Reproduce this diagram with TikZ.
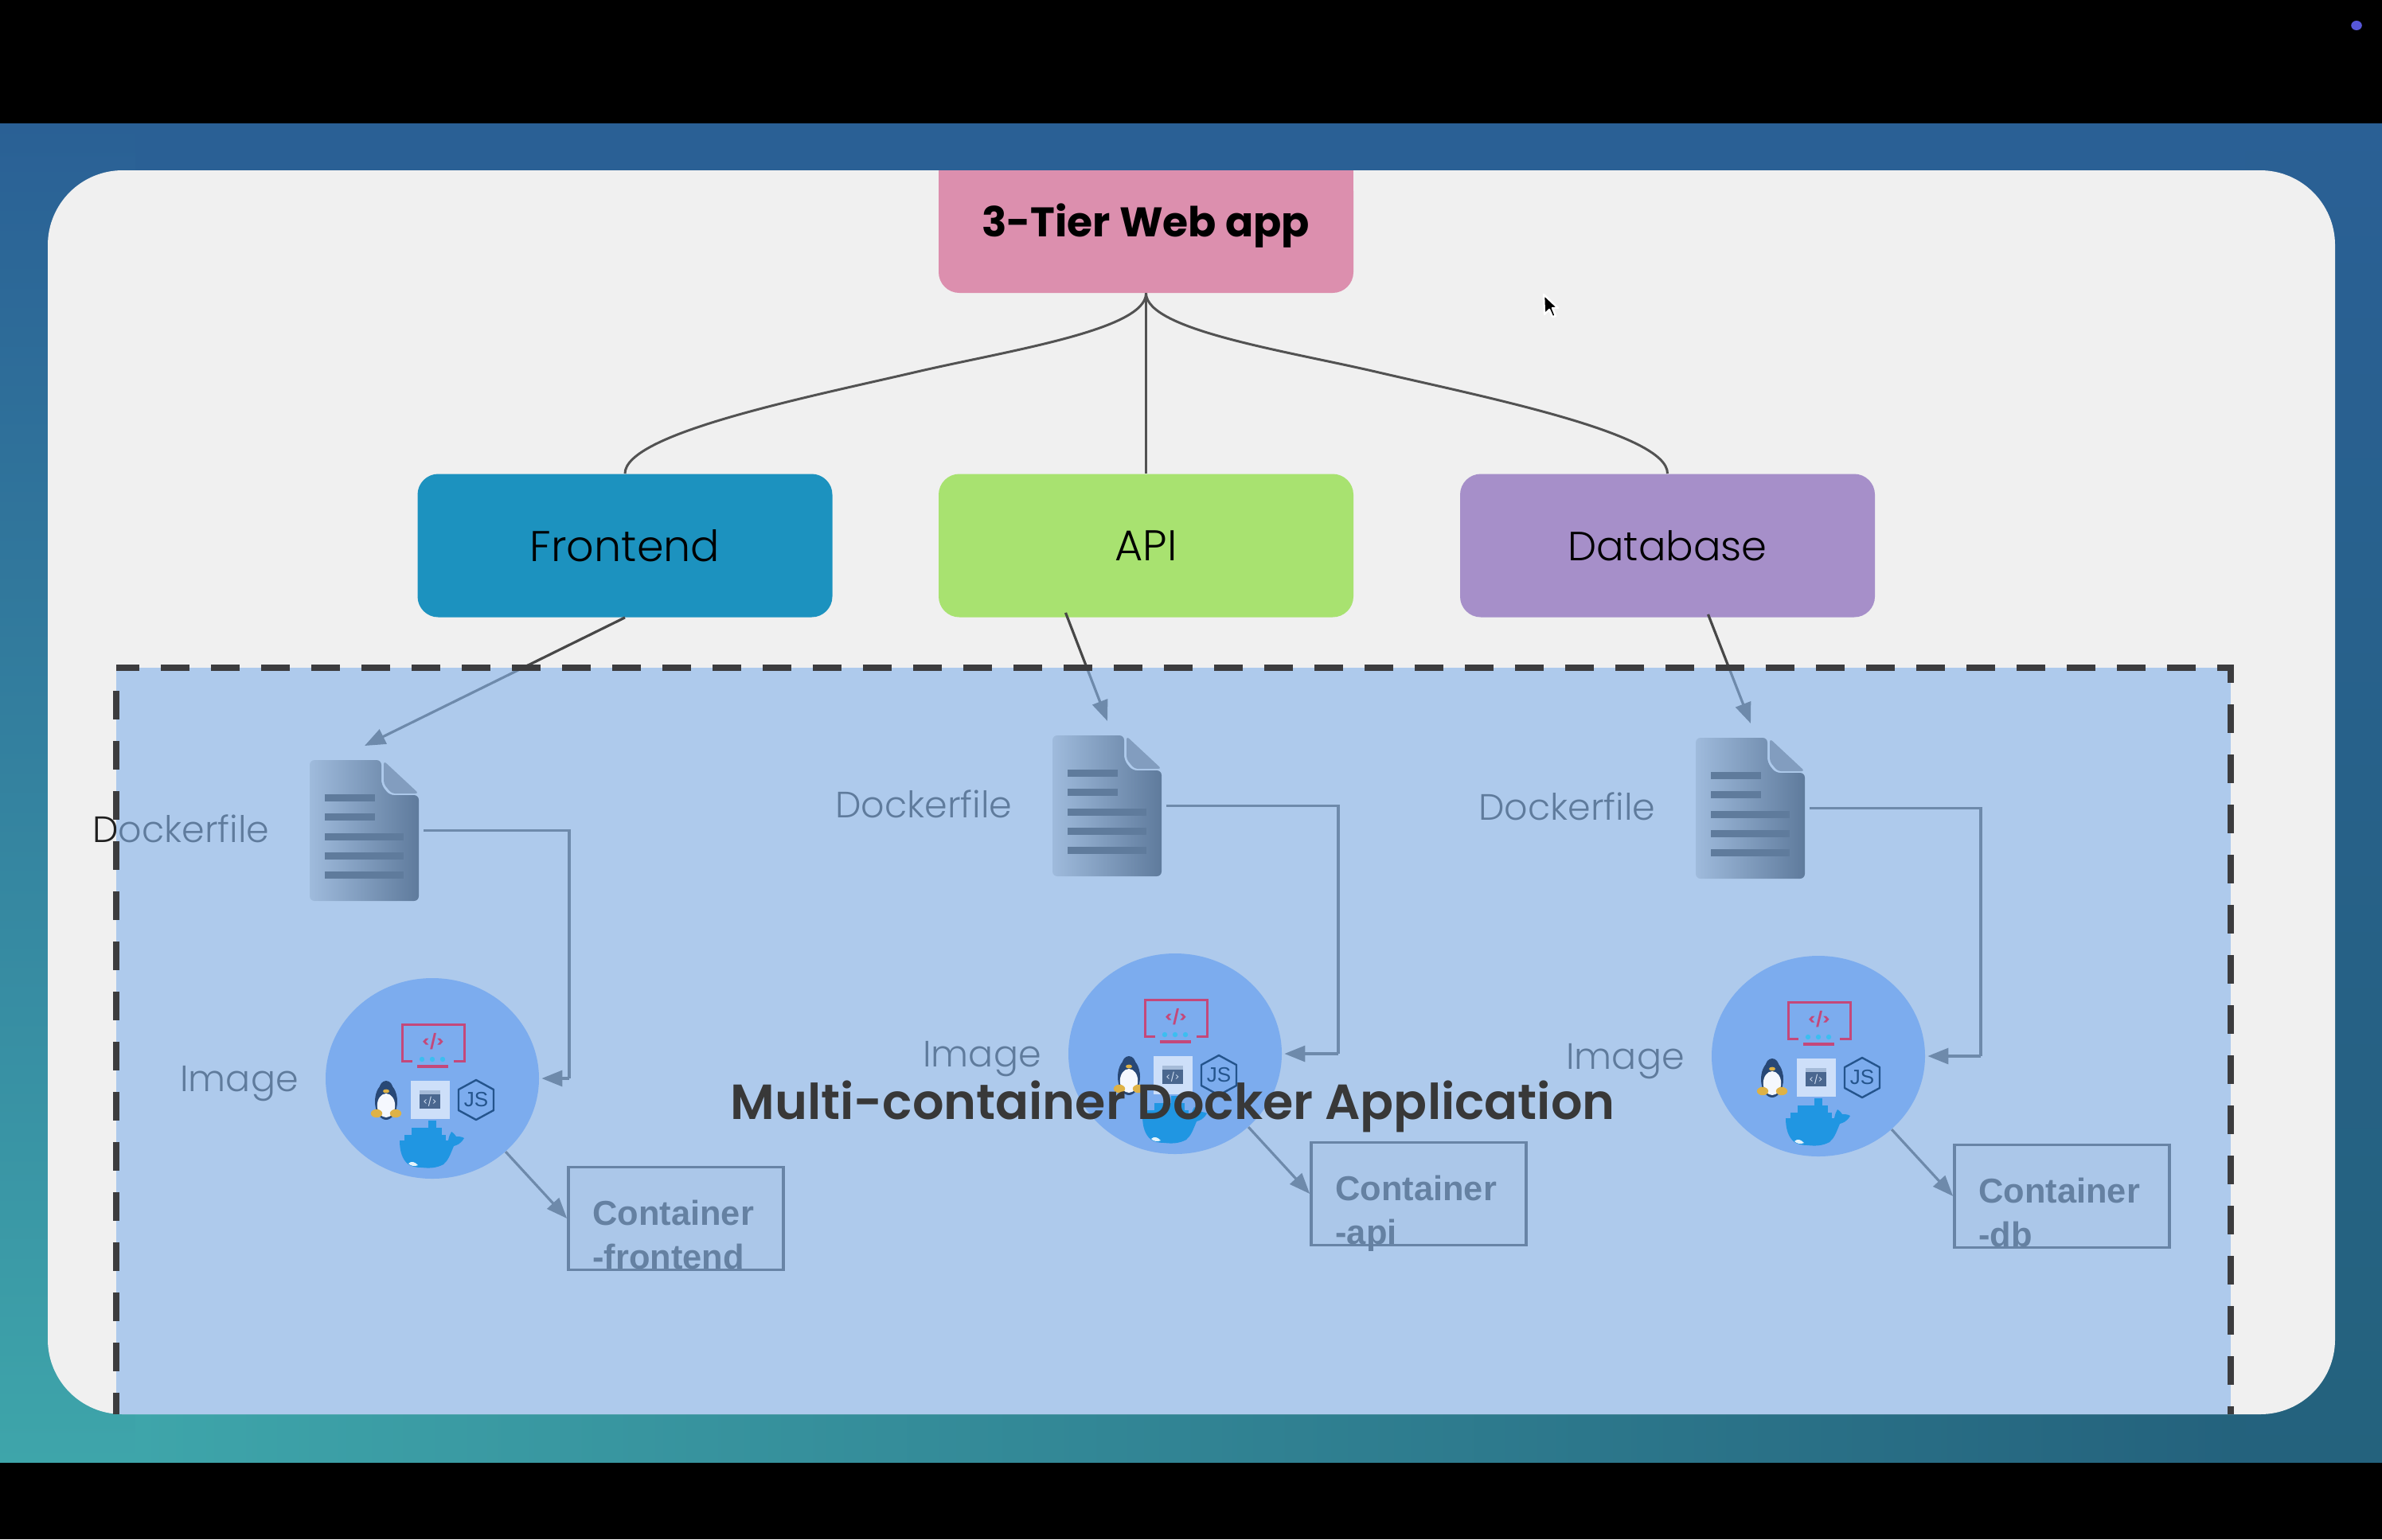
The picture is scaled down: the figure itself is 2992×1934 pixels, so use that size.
\documentclass[tikz,border=0pt]{standalone}
\usepackage{fontspec}
\usetikzlibrary{arrows.meta,calc,shapes.geometric}
\setmainfont{Poppins}
\newfontfamily\contfont{Liberation Sans}
\newfontfamily\lightfont{Poppins Light}
\newfontfamily\semifont{Poppins SemiBold}
\pgfdeclarelayer{back}
\pgfdeclarelayer{veil}
\pgfsetlayers{back,veil,main}
\definecolor{cardgrey}{RGB}{240,240,240}
\definecolor{bgtop}{RGB}{42,96,149}
\definecolor{bgmid}{RGB}{43,102,152}
\definecolor{bgteal}{RGB}{62,165,170}
\definecolor{bgcentre}{RGB}{42,132,142}
\definecolor{bgright}{RGB}{36,98,125}
\definecolor{pinkbox}{RGB}{220,143,174}
\definecolor{bluebox}{RGB}{28,146,191}
\definecolor{greenbox}{RGB}{168,226,112}
\definecolor{purplebox}{RGB}{166,143,201}
\definecolor{veilblue}{RGB}{135,180,234}
\definecolor{imgblue}{RGB}{124,172,238}
\definecolor{monitorpink}{RGB}{196,72,122}
\definecolor{monitorcyan}{RGB}{60,190,240}
\definecolor{whaleblue}{RGB}{32,150,226}
\definecolor{jsblue}{RGB}{36,84,140}
\definecolor{tuxdark}{RGB}{40,72,118}
\definecolor{tuxfoot}{RGB}{222,178,70}
\definecolor{dashgrey}{RGB}{60,60,62}
\tikzset{
  x=0.5pt,y=-0.5pt,
  tierbox/.style={rounded corners=13pt,minimum width=260.5pt,minimum height=90pt,inner sep=0pt,text=black,font=\lightfont\fontsize{27}{30}\selectfont},
  link/.style={draw=black!68,line width=1.5pt},
  conn/.style={draw=black!72,line width=1.6pt},
  connarrow/.style={conn,-{Triangle[length=13pt,width=10pt]}},
  labeltext/.style={anchor=base west,inner sep=0pt,text=black!88,font=\lightfont\fontsize{23}{26}\selectfont},
  contbox/.style={draw=black!78,line width=1.8pt,fill=black!9,minimum width=135pt,minimum height=64.5pt,inner sep=0pt},
  conttext/.style={anchor=base west,inner sep=0pt,align=left,text=black!82,font=\contfont\bfseries\fontsize{21.7}{27.5}\selectfont},
  imgdisc/.style={ellipse,fill=imgblue,minimum width=134pt,minimum height=126pt,inner sep=0pt},
}
\newcommand{\drawcol}[5]{%
  \begin{scope}[shift={(#2,#3)}]
    \node[imgdisc] (img#1) at (543,1355) {};
    \begin{scope}[shift={(543,1354)}]
      % monitor
      \draw[monitorpink,line width=1.5pt] (-25,-21) -- (-38,-21) -- (-38,-67) -- (40,-67) -- (40,-21) -- (27,-21);
      \draw[monitorpink,line width=2pt] (-19,-14) -- (20,-14);
      \node[inner sep=0pt,text=monitorpink,font=\bfseries\fontsize{9}{10}\selectfont] (code#1) at (1,-45) {</>};
      \foreach \q in {-13,0,13}{\fill[monitorcyan] (\q,-23) circle (1.6pt);}
      % penguin
      \fill[tuxdark] (-58,30) ellipse (7pt and 11.5pt);
      \fill[tuxdark] (-58,14) ellipse (4.2pt and 5pt);
      \fill[white!92!imgblue] (-58,35) ellipse (5.6pt and 7.5pt);
      \fill[tuxfoot] (-58,17) ellipse (2pt and 1.2pt);
      \fill[tuxfoot] (-70,45) ellipse (3.6pt and 2.6pt);
      \fill[tuxfoot] (-46,45) ellipse (3.6pt and 2.6pt);
      % window square
      \fill[white!62!imgblue] (-27,4) rectangle (22,52);
      \fill[black!22!white!55!imgblue] (-16,16) rectangle (10,22);
      \fill[black!40!imgblue] (-16,21) rectangle (10,39);
      \node[inner sep=0pt,text=white!75!imgblue,font=\fontsize{5.5}{6}\selectfont] (win#1) at (-3,30) {</>};
      % node.js hexagon
      \draw[jsblue,line width=1.2pt,line join=round] (55,3) -- (77,15) -- (77,41) -- (55,53) -- (33,41) -- (33,15) -- cycle;
      \node[inner sep=0pt,text=jsblue,font=\contfont\fontsize{13}{14}\selectfont] (js#1) at (55,28) {JS};
      % whale
      \fill[whaleblue] (-41,79) -- (20,79) .. controls (21,74) and (22,71) .. (24,68) .. controls (27,70) and (29,72) .. (30,74) .. controls (33,74) and (37,74) .. (40,76) .. controls (36,83) and (31,85) .. (27,86) .. controls (22,98) and (20,104) .. (14,109) .. controls (5,114) and (-5,114) .. (-13,113) .. controls (-22,113) and (-27,111) .. (-30,109) .. controls (-38,103) and (-41,92) .. (-41,79) -- cycle;
      \fill[whaleblue] (-35,72) rectangle (17,80);
      \fill[whaleblue] (-26,63) rectangle (12,72);
      \fill[whaleblue] (-5,54) rectangle (5,63);
      \fill[white!88!whaleblue] (-30,108) .. controls (-26,104) and (-22,106) .. (-18,110) .. controls (-22,112) and (-27,111) .. (-30,108) -- cycle;
    \end{scope}
    \begin{pgfonlayer}{back}
      \node[minimum width=67.5pt,minimum height=88.5pt,inner sep=0pt] (doc#1) at (458.5,1043.5) {};
      \coordinate (docin#1) at (458,937);
      \coordinate (bend#1) at (#5,1355);
      \coordinate (docout#1) at ($(doc#1.east)+(6,0)$);
      \coordinate (imgin#1) at ($(img#1.east)+(3,0)$);
      % the document icon
      \shade[left color=black!22,right color=black!88,rounded corners=3pt] (389,955) -- (479,955) -- (479,986) -- (489,999) -- (526,999) -- (526,1132) -- (389,1132) -- cycle;
      \fill[black!52,rounded corners=2pt] (482,956) -- (526,997) -- (492,997) -- (482,985) -- cycle;
      \foreach \ly/\lx in {1002/471,1026/471,1051/507,1075/507,1099/507}{
        \fill[black!88] (408,\ly-4.5) rectangle (\lx,\ly+4.5);
      }
      \node[labeltext] (dockerlabel#1) at (116,1058) {Dockerfile};
      \node[labeltext] (imagelabel#1) at (226,1371) {Image};
      \node[contbox] (cont#1) at (849,1531) {};
      \node[conttext] (conttext#1) at (744,1594) {Container\\-#4};
      \draw[conn] (docout#1) -- (docout#1 -| bend#1) -- (bend#1);
      \draw[connarrow] (bend#1) -- (imgin#1);
      \draw[connarrow] (img#1.-45) -- (cont#1.west);
    \end{pgfonlayer}
  \end{scope}
}
\begin{document}
\begin{tikzpicture}
\useasboundingbox (0,0) rectangle (2992,1934);
\begin{pgfonlayer}{back}
  \fill[black] (0,0) rectangle (2992,1934);
  \fill[bgtop] (0,155) rectangle (2992,400);
  \shade[top color=bgtop,middle color=bgmid,bottom color=bgteal] (0,155) rectangle (170,1837);
  \shade[top color=bgtop,middle color=bgmid,bottom color=bgright] (2820,155) rectangle (2992,1837);
  \shade[left color=bgteal,middle color=bgcentre,right color=bgright] (170,1700) rectangle (2820,1837);
  \fill[cardgrey,rounded corners=47pt] (60,214) rectangle (2933,1777);
  % top boxes
  \node[tierbox,fill=pinkbox,minimum height=77pt] (tier) at (1439.5,291) {};
  \fill[pinkbox] (tier.north west) rectangle (tier.east);
  \node[inner sep=0pt,anchor=base,text=black,font=\bfseries\fontsize{26}{30}\selectfont] (tierlabel) at (1439,297) {3-Tier Web app};
  \node[tierbox,fill=bluebox] (frontend) at (785,685.5) {Frontend};
  \node[tierbox,fill=greenbox] (api) at (1439.5,685.5) {API};
  \node[tierbox,fill=purplebox,font=\lightfont\fontsize{25.6}{30}\selectfont] (database) at (2094.5,685.5) {Database};
  \draw[link] (tier.south) .. controls (1440,415) and (1263,441) .. (1148,468) .. controls (1010,500) and (785,545) .. (frontend.north);
  \draw[link] (tier.south) -- (api.north);
  \draw[link] (tier.south) .. controls (1440,415) and (1617,441) .. (1732,468) .. controls (1870,500) and (2095,545) .. (database.north);
  \coordinate (apiout) at ($(api.south)+(-101,-6)$);
  \coordinate (dbout) at ($(database.south)+(51,-4)$);
\end{pgfonlayer}
\drawcol{1}{0}{0}{frontend}{715}
\drawcol{2}{933}{-31}{api}{748}
\drawcol{3}{1741}{-28}{db}{747}
\begin{pgfonlayer}{back}
  \draw[connarrow] (frontend.south) -- (docin1);
  \draw[connarrow] (apiout) -- (docin2);
  \draw[connarrow] (dbout) -- (docin3);
\end{pgfonlayer}
\begin{pgfonlayer}{veil}
  \fill[veilblue,opacity=0.62] (146,839) rectangle (2802,1777);
\end{pgfonlayer}
% dashed frame
\draw[dashgrey,line width=4.4pt,dash pattern=on 18pt off 13.5pt,dash phase=3.5pt] (146,839) -- (2802,839) -- (2802,1777);
\draw[dashgrey,line width=4.4pt,dash pattern=on 18pt off 13.5pt] (146,868) -- (146,1777);
\node[inner sep=0pt,anchor=base,text=black!78,font=\semifont\fontsize{31}{34}\selectfont] (title) at (1473,1406) {Multi-container Docker Application};
% cursor and dot
\draw[white,line width=1.2pt,fill=black,line join=round] (1939,370) -- (1940,395) -- (1946,389) -- (1950,398) -- (1954,397) -- (1950,387) -- (1957,387) -- cycle;
\fill[blue!60!white!85!black] (2960,32) ellipse (3.4pt and 3pt);
\end{tikzpicture}
\end{document}
